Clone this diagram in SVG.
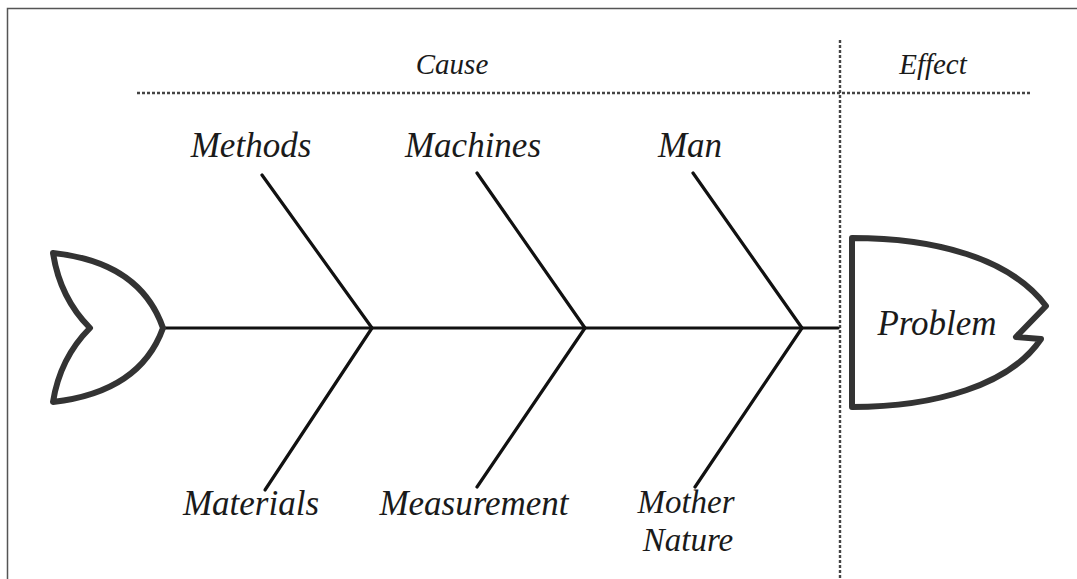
<svg xmlns="http://www.w3.org/2000/svg" width="1077" height="579" viewBox="0 0 1077 579">
<style>
.lbl{font-family:"Liberation Serif","DejaVu Serif",serif;font-style:italic;fill:#1a1a1a;text-anchor:middle}
.big{font-size:35px}
.mn{font-size:33px}
.hdr{font-size:29px}
.bone{stroke:#111;stroke-width:3.2;fill:none;stroke-linecap:round}
.dash{stroke:#444;stroke-width:2.4;stroke-dasharray:3 2;fill:none}
.fish{stroke:#333;stroke-width:6;fill:#fff;stroke-linejoin:round}
</style>
<rect width="1077" height="579" fill="#fff"/>
<path d="M7.5,579 V8.5 H1077" stroke="#555" stroke-width="1.5" fill="none"/>
<g id="headers">
<line class="dash" x1="137" y1="93" x2="1030" y2="93"/>
<line class="dash" x1="840" y1="40" x2="840" y2="579"/>
<text class="lbl hdr" x="452" y="74">Cause</text>
<text class="lbl hdr" x="933" y="74">Effect</text>
</g>
<g id="connectors">
<line class="bone" x1="165" y1="328" x2="838" y2="328"/>
<line class="bone" x1="262" y1="175" x2="372" y2="328"/>
<line class="bone" x1="477" y1="173" x2="585" y2="328"/>
<line class="bone" x1="693" y1="173" x2="802" y2="328"/>
<line class="bone" x1="372" y1="328" x2="265" y2="490"/>
<line class="bone" x1="585" y1="328" x2="477" y2="487"/>
<line class="bone" x1="802" y1="328" x2="695" y2="487"/>
</g>
<g id="tail">
<path class="fish" d="M53,253 Q140,262 163,328 Q140,392 53,402 Q60,358 90,328 Q60,298 53,253 Z"/>
</g>
<g id="head">
<path class="fish" d="M852,238 C935,238 1010,258 1046,306 L1016,337 L1041,339 C1010,385 935,407 852,407 Z"/>
<text class="lbl big" x="937" y="335">Problem</text>
</g>
<g id="methods"><text class="lbl big" x="251" y="157">Methods</text></g>
<g id="machines"><text class="lbl big" x="473" y="157">Machines</text></g>
<g id="man"><text class="lbl big" x="690" y="157">Man</text></g>
<g id="materials"><text class="lbl big" x="251" y="515">Materials</text></g>
<g id="measurement"><text class="lbl big" x="474" y="515">Measurement</text></g>
<g id="mother-nature"><text class="lbl mn" x="686" y="513">Mother</text><text class="lbl mn" x="688" y="551">Nature</text></g>
</svg>
